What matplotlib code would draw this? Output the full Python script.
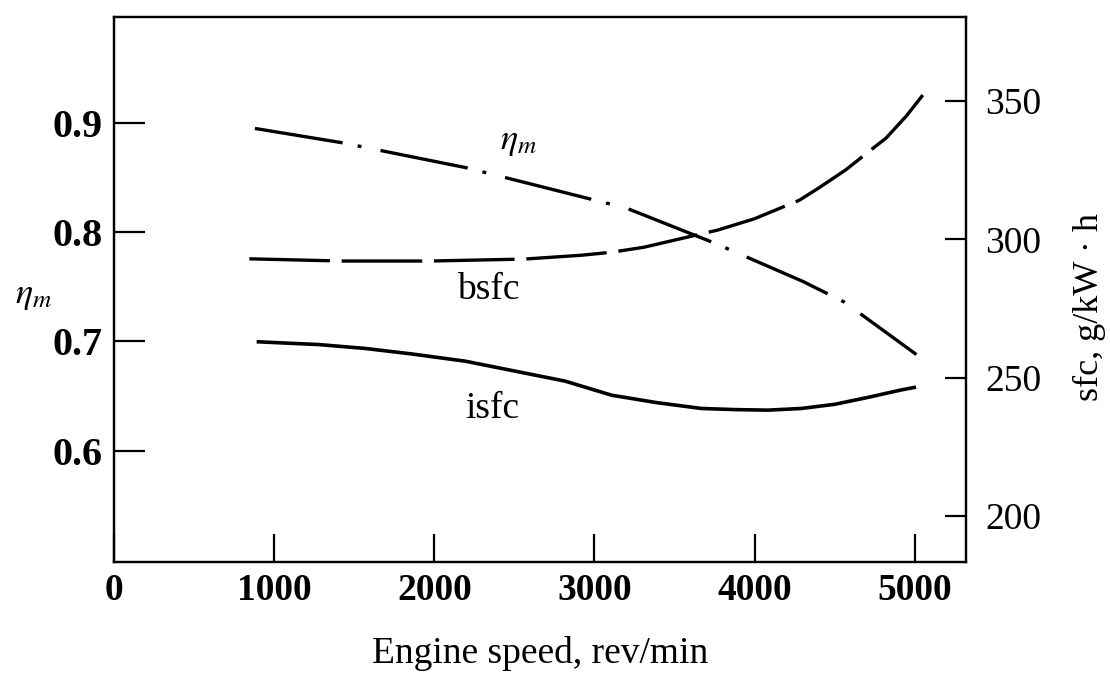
import matplotlib
matplotlib.use("Agg")
import matplotlib.pyplot as plt

# values
speed_eta = [880, 1420, 2200, 2930, 3200, 3750, 4300, 4560, 5010]
eta_m = [0.895, 0.882, 0.859, 0.832, 0.822, 0.790, 0.755, 0.736, 0.688]

speed_bsfc = [845, 1420, 1970, 2560, 2920, 3110, 3310, 3770, 4000, 4280, 4400,
              4570, 4740, 4820, 4950, 5050]
bsfc = [293.0, 292.2, 292.2, 292.9, 294.3, 295.4, 297.2, 303.4, 307.5, 314.2, 318.6,
        325.2, 333.0, 336.6, 344.8, 352.2]

speed_isfc = [902, 1279, 1569, 1860, 2193, 2401, 2608, 2816, 3107, 3390, 3668,
              3876, 4083, 4291, 4499, 4707, 4915, 4997]
isfc = [263.0, 262.0, 260.6, 258.6, 256.0, 253.6, 251.2, 248.8, 243.7, 241.0, 238.9,
        238.5, 238.3, 238.9, 240.4, 242.9, 245.6, 246.5]

x_ticks = [0, 1000, 2000, 3000, 4000, 5000]
eta_ticks = [0.6, 0.7, 0.8, 0.9]
sfc_ticks = [200, 250, 300, 350]

plt.rcParams["font.family"] = ["Liberation Serif", "DejaVu Serif"]
plt.rcParams["mathtext.fontset"] = "stix"
plt.rcParams["lines.scale_dashes"] = False

fig = plt.figure(figsize=(11.1, 6.73), dpi=100)
ax = fig.add_axes([0.1027, 0.1649, 0.7676, 0.8098])
ax2 = ax.twinx()

ax.plot(speed_eta, eta_m, color="black", lw=2.4,
        dashes=(64, 11, 2.8, 14), dash_capstyle="butt")
ax2.plot(speed_bsfc, bsfc, color="black", lw=2.4, dashes=(58, 8.5),
         dash_capstyle="butt")
ax2.plot(speed_isfc, isfc, color="black", lw=2.6)

ax.set_xlim(0, 5320)
ax.set_ylim(0.498, 0.997)
ax2.set_ylim(183.4, 380.4)

ax.set_xticks(x_ticks)
ax.set_yticks(eta_ticks)
ax2.set_yticks(sfc_ticks)
ax.set_xticklabels([str(v) for v in x_ticks], fontsize=27, fontweight="bold")
ax.set_yticklabels([f"{v:.1f}" for v in eta_ticks], fontsize=29, fontweight="bold")
ax2.set_yticklabels([str(v) for v in sfc_ticks], fontsize=27)

ax.tick_params(axis="x", direction="in", length=20, width=1.6, pad=8)
ax.tick_params(axis="y", direction="in", length=22, width=1.6, pad=8)
ax2.tick_params(axis="y", direction="in", length=15, width=1.6, pad=14)
for a in (ax, ax2):
    for s in a.spines.values():
        s.set_linewidth(1.6)

ax.set_xlabel("Engine speed, rev/min", fontsize=27, labelpad=20)
ax2.set_ylabel("sfc, g/kW \u00b7 h", fontsize=26)
ax2.yaxis.set_label_coords(1.126, 0.468)
fig.text(0.03, 0.561, r"$\eta_m$", fontsize=26, ha="center", va="center")

ax.text(2527, 0.883, r"$\eta_m$", fontsize=26, ha="center", va="center")
ax.text(2340, 0.747, "bsfc", fontsize=27, ha="center", va="center")
ax.text(2360, 0.638, "isfc", fontsize=27, ha="center", va="center")

fig.savefig("out.png", dpi=100)
